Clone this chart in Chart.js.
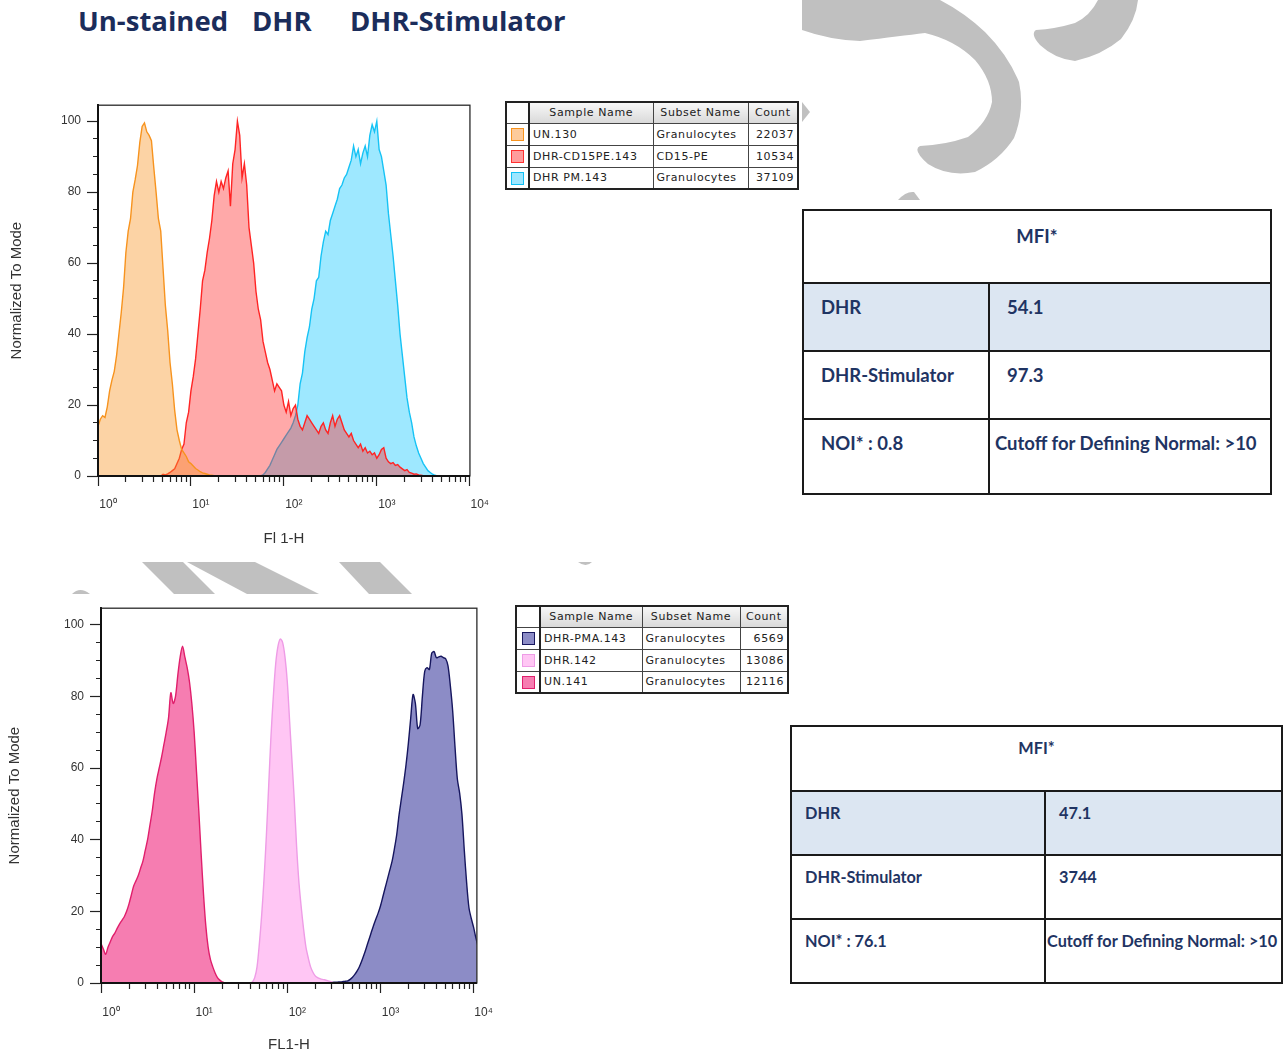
<!DOCTYPE html>
<html>
<head>
<meta charset="utf-8">
<script src="https://cdn.jsdelivr.net/npm/chart.js@4.4.1/dist/chart.umd.min.js"></script>
<style>
  html, body { margin: 0; padding: 0; background: #fff; }
  body { width: 1286px; height: 1054px; position: relative; overflow: hidden; }
  #watermark { position: absolute; left: 0; top: 0; z-index: 0; }
  .heading { position: absolute; top: 2px; font: 700 27.5px "Open Sans", sans-serif; color: #1b2d5b; z-index: 1; }
  .plot { position: absolute; z-index: 1; }
  table.leg { position: absolute; z-index: 1; border-collapse: collapse; table-layout: fixed;
    font: 11px "DejaVu Sans", sans-serif; letter-spacing: 0.6px; color: #222; border: 2px solid #222; }
  table.leg td, table.leg th { border: 1px solid #444; padding: 0 3px; white-space: nowrap; overflow: hidden;
    font-weight: normal; text-align: left; }
  table.leg th { background: linear-gradient(#f7f7f7, #d9d9d9); text-align: center; }
  table.leg td.num { text-align: right; }
  table.leg td.sw, table.leg th.sw { border-right: 2px solid #222; padding: 0; text-align: center; background: #fff; }
  .swatch { display: inline-block; width: 11px; height: 11px; border: 1px solid; vertical-align: middle; }
  table.mfi { position: absolute; z-index: 1; border-collapse: collapse; table-layout: fixed;
    font-family: Lato, sans-serif; font-weight: 700; color: #1f3463; }
  table.mfi td { border: 2px solid #1a1a1a; vertical-align: top; white-space: nowrap; }
  table.mfi tr.blue td { background: #dce6f2; }
</style>
</head>
<body>

<svg id="watermark" width="1286" height="1054" viewBox="0 0 1286 1054">
  <g fill="#c0c0c0">
    <path d="M802,0 L802,30 Q830,40 860,41 Q900,36 925,33 Q955,40 975,60 Q992,80 992,102 Q988,122 968,137 Q945,145 920,146 Q912,150 928,164 Q948,177 975,172 Q1000,160 1014,138 Q1025,110 1019,82 Q1008,55 985,32 Q965,13 940,0 Z"/>
    <path d="M1098,0 Q1090,16 1075,23 Q1055,29 1036,30 Q1030,34 1040,45 Q1055,59 1075,61 Q1102,55 1121,39 Q1136,20 1138,0 Z"/>
    <path d="M802,102 L810,112 L802,122 Z"/>
    <path d="M898,200 Q906,191 914,192 L920,200 Z"/>
    <path d="M142,562 L183,562 L215,594 L174,594 Z"/>
    <path d="M187,562 L255,562 L319,594 L247,594 Z"/>
    <path d="M339,562 L380,562 L412,594 L369,594 Z"/>
    <path d="M72,594 Q80,586 90,594 Z"/>
    <path d="M578,562 L592,562 Q586,568 578,562 Z"/>
  </g>
</svg>

<div class="heading" style="left:78px">Un-stained</div>
<div class="heading" style="left:252px">DHR</div>
<div class="heading" style="left:350px">DHR-Stimulator</div>

<div class="plot" style="left:0; top:92px; width:490px; height:460px;"><canvas id="histTop" width="490" height="460"></canvas></div>
<div class="plot" style="left:0; top:595px; width:495px; height:459px;"><canvas id="histBottom" width="495" height="459"></canvas></div>

<table class="leg" id="legendTop" style="left:505px; top:101px; width:292px;">
  <colgroup><col style="width:23px"><col style="width:124px"><col style="width:95px"><col style="width:50px"></colgroup>
</table>
<table class="leg" id="legendBottom" style="left:515px; top:605px; width:272px;">
  <colgroup><col style="width:24px"><col style="width:102px"><col style="width:98px"><col style="width:48px"></colgroup>
</table>

<table class="mfi" style="left:802px; top:209px; width:468px; font-size:18.5px;">
  <colgroup><col style="width:186px"><col style="width:282px"></colgroup>
  <tr style="height:73px"><td colspan="2" style="text-align:center; padding-top:14px">MFI*</td></tr>
  <tr class="blue" style="height:68px"><td style="padding:12px 0 0 17px">DHR</td><td style="padding:12px 0 0 17px">54.1</td></tr>
  <tr style="height:68px"><td style="padding:12px 0 0 17px">DHR-Stimulator</td><td style="padding:12px 0 0 17px">97.3</td></tr>
  <tr style="height:75px"><td style="padding:12px 0 0 17px">NOI* : 0.8</td><td style="padding:12px 0 0 5px">Cutoff for Defining Normal: &gt;10</td></tr>
</table>

<table class="mfi" style="left:790px; top:725px; width:491px; font-size:16.3px;">
  <colgroup><col style="width:254px"><col style="width:237px"></colgroup>
  <tr style="height:65px"><td colspan="2" style="text-align:center; padding-top:11px">MFI*</td></tr>
  <tr class="blue" style="height:64px"><td style="padding:11px 0 0 13px">DHR</td><td style="padding:11px 0 0 13px">47.1</td></tr>
  <tr style="height:64px"><td style="padding:11px 0 0 13px">DHR-Stimulator</td><td style="padding:11px 0 0 13px">3744</td></tr>
  <tr style="height:64px"><td style="padding:11px 0 0 13px">NOI* : 76.1</td><td style="padding:11px 0 0 1px">Cutoff for Defining Normal: &gt;10</td></tr>
</table>

<script>
// log10 of the FL1-H channel centres (0.025 decade bins)
const channelLog = [
  0, 0.025, 0.05, 0.075, 0.1, 0.125, 0.15, 0.175, 0.2, 0.225, 0.25, 0.275, 0.3, 0.325, 0.35, 0.375, 0.4, 0.425, 0.45, 0.475,
  0.5, 0.525, 0.55, 0.575, 0.6, 0.625, 0.65, 0.675, 0.7, 0.725, 0.75, 0.775, 0.8, 0.825, 0.85, 0.875, 0.9, 0.925, 0.95, 0.975,
  1, 1.025, 1.05, 1.075, 1.1, 1.125, 1.15, 1.175, 1.2, 1.225, 1.25, 1.275, 1.3, 1.325, 1.35, 1.375, 1.4, 1.425, 1.45, 1.475,
  1.5, 1.525, 1.55, 1.575, 1.6, 1.625, 1.65, 1.675, 1.7, 1.725, 1.75, 1.775, 1.8, 1.825, 1.85, 1.875, 1.9, 1.925, 1.95, 1.975,
  2, 2.025, 2.05, 2.075, 2.1, 2.125, 2.15, 2.175, 2.2, 2.225, 2.25, 2.275, 2.3, 2.325, 2.35, 2.375, 2.4, 2.425, 2.45, 2.475,
  2.5, 2.525, 2.55, 2.575, 2.6, 2.625, 2.65, 2.675, 2.7, 2.725, 2.75, 2.775, 2.8, 2.825, 2.85, 2.875, 2.9, 2.925, 2.95, 2.975,
  3, 3.025, 3.05, 3.075, 3.1, 3.125, 3.15, 3.175, 3.2, 3.225, 3.25, 3.275, 3.3, 3.325, 3.35, 3.375, 3.4, 3.425, 3.45, 3.475,
  3.5, 3.525, 3.55, 3.575, 3.6, 3.625, 3.65, 3.675, 3.7, 3.725, 3.75, 3.775, 3.8, 3.825, 3.85, 3.875, 3.9, 3.925, 3.95, 3.975,
  4, 4.025, 4.05
];

// top histogram, % of mode
const un130 = [
  14, 16, 17, 16.5, 19.5, 24, 27, 29.5, 34, 40, 46, 53, 63, 69, 72.5, 80, 83.5, 87.5, 94, 98.5,
  99.5, 97, 96, 94.5, 87, 80, 72.5, 69, 58.5, 48, 41, 32, 26, 18.5, 13, 10, 7.5, 6.5, 5.5, 4,
  3.5, 2.8, 2.1, 1.7, 1.2, 0.9, 0.7, 0.5, 0.3, 0.2, 0.1, 0
];
const dhrCd15 = [
  0, 0, 0, 0, 0, 0, 0, 0, 0, 0, 0, 0, 0, 0, 0, 0, 0, 0, 0, 0,
  0, 0, 0, 0, 0, 0, 0, 0, 0.5, 0.3, 0.6, 1, 1.5, 2, 3.5, 5, 7.5, 9, 15, 18,
  24, 28, 33, 40, 47, 55, 58, 63, 67, 72, 79, 83, 80, 83, 81, 84, 86, 76, 88, 92,
  100, 96, 84, 88, 82, 70, 65, 60, 52, 47, 44, 38, 35, 32, 30, 27, 24, 26, 25, 24,
  20, 18, 21, 17, 19, 20, 16, 14, 13, 15, 17, 16, 15, 14, 13, 12, 14, 15, 13, 12,
  15, 17, 14, 16, 17, 15, 13, 12, 11, 12, 10, 9, 8, 9, 7, 8, 6.5, 7, 6, 6.5,
  5, 6, 7.5, 8, 5, 4, 3.5, 3.8, 3, 3.2, 2.5, 2, 1.5, 1.8, 1, 0.8, 0.5, 0.6, 0.3, 0.2,
  0.1, 0
];
const dhrPm = [
  0, 0, 0, 0, 0, 0, 0, 0, 0, 0, 0, 0, 0, 0, 0, 0, 0, 0, 0, 0,
  0, 0, 0, 0, 0, 0, 0, 0, 0, 0, 0, 0, 0, 0, 0, 0, 0, 0, 0, 0,
  0, 0, 0, 0, 0, 0, 0, 0, 0, 0, 0, 0, 0, 0, 0, 0, 0, 0, 0, 0,
  0, 0, 0, 0, 0, 0, 0, 0, 0, 0, 0, 0.3, 1, 2, 3, 4.5, 6, 7.5, 8.5, 9.5,
  10.5, 11.5, 12.5, 13.5, 15, 17, 20, 26, 29, 35, 39, 42, 47, 50, 55, 56, 62, 66, 69, 68,
  72, 74, 76, 78, 81, 82, 84, 85, 87, 89, 93, 90, 92, 88, 91, 93, 90, 96, 99, 97,
  100, 92, 90, 86, 82, 74, 68, 62, 55, 48, 40, 34, 28, 22, 18, 15, 11, 8.5, 6.5, 5,
  3.5, 2.5, 1.5, 1, 0.5, 0.2, 0
];

// bottom histogram, % of mode
const un141 = [
  11, 9.5, 8, 10, 11.5, 13, 14, 15.3, 16.5, 17.5, 18.5, 20, 22, 24.5, 27, 28.5, 30, 32, 34, 37,
  40, 44, 48, 53, 57, 60, 63, 66.5, 70, 74, 81, 78, 80, 86, 91, 94, 91, 88, 84, 78,
  70, 59, 48, 36, 25, 16, 10, 6.5, 4.5, 2.8, 1.5, 0.8, 0.3, 0.1, 0
];
const dhr142 = [
  0, 0, 0, 0, 0, 0, 0, 0, 0, 0, 0, 0, 0, 0, 0, 0, 0, 0, 0, 0,
  0, 0, 0, 0, 0, 0, 0, 0, 0, 0, 0, 0, 0, 0, 0, 0, 0, 0, 0, 0,
  0, 0, 0, 0, 0, 0, 0, 0, 0, 0, 0, 0, 0, 0, 0, 0, 0, 0, 0, 0,
  0, 0, 0, 0, 0, 0.3, 1.5, 4.5, 11, 19, 29, 41, 55, 69, 80, 89, 94, 96, 95, 91,
  84, 73, 62, 51, 38, 28, 21, 15, 10, 7, 4.5, 3, 2, 1.5, 1.2, 1, 0.9, 0.7, 0.5, 0.3,
  0
];
const dhrPma143 = [
  0, 0, 0, 0, 0, 0, 0, 0, 0, 0, 0, 0, 0, 0, 0, 0, 0, 0, 0, 0,
  0, 0, 0, 0, 0, 0, 0, 0, 0, 0, 0, 0, 0, 0, 0, 0, 0, 0, 0, 0,
  0, 0, 0, 0, 0, 0, 0, 0, 0, 0, 0, 0, 0, 0, 0, 0, 0, 0, 0, 0,
  0, 0, 0, 0, 0, 0, 0, 0, 0, 0, 0, 0, 0, 0, 0, 0, 0, 0, 0, 0,
  0, 0, 0, 0, 0, 0, 0, 0, 0, 0, 0, 0, 0, 0, 0, 0, 0, 0, 0, 0.1,
  0.2, 0.2, 0.3, 0.3, 0.4, 0.5, 0.6, 1, 1.6, 2.4, 3.4, 4.6, 6.2, 8, 10, 12, 14, 16, 17.8, 19.5,
  21.5, 24, 26.5, 29, 31.5, 34, 37.5, 41.5, 47, 51.5, 56, 61, 67, 74, 80.5, 78, 71, 72, 80, 87,
  88, 87.5, 92, 92.5, 90.8, 91, 91.2, 90.8, 90.5, 88.5, 83, 76, 66, 57, 53, 47, 37, 28, 21, 18,
  15.5, 12.5, 10
];

// axis ticks
const decadeValues = [1, 10, 100, 1000, 10000];
const decadeLabels = ['10⁰', '10¹', '10²', '10³', '10⁴'];
const minorSteps = [2, 3, 4, 5, 6, 7, 8, 9];

// legend tables
const topSamples = ['UN.130', 'DHR-CD15PE.143', 'DHR PM.143'];
const topSubsets = ['Granulocytes', 'CD15-PE', 'Granulocytes'];
const topCounts = ['22037', '10534', '37109'];
const bottomSamples = ['DHR-PMA.143', 'DHR.142', 'UN.141'];
const bottomSubsets = ['Granulocytes', 'Granulocytes', 'Granulocytes'];
const bottomCounts = ['6569', '13086', '12116'];

const topColors = [
  { line: '#f7931e', fill: 'rgba(248,150,40,0.42)' },
  { line: '#ff2424', fill: 'rgba(255,40,40,0.40)' },
  { line: '#16c3f5', fill: 'rgba(0,195,255,0.38)' }
];
const bottomColors = [
  { line: '#16165e', fill: '#8c8cc6' },
  { line: '#ee9ce6', fill: '#ffc6f4' },
  { line: '#e01f6c', fill: '#f67db1' }
];

function fillLegend(id, samples, subsets, counts, colors, rowH) {
  const table = document.getElementById(id);
  let html = '<tr style="height:' + (rowH - 1) + 'px"><th class="sw"></th><th>Sample Name</th><th>Subset Name</th><th>Count</th></tr>';
  samples.forEach((name, i) => {
    html += '<tr style="height:' + rowH + 'px"><td class="sw"><span class="swatch" style="background:' +
      colors[i].fill + ';border-color:' + colors[i].line + '"></span></td><td>' + name + '</td><td>' +
      subsets[i] + '</td><td class="num">' + counts[i] + '</td></tr>';
  });
  table.insertAdjacentHTML('beforeend', html);
}
fillLegend('legendTop', topSamples, topSubsets, topCounts,
  [{ line: '#f7931e', fill: '#fdcb9b' }, { line: '#ff3030', fill: '#ff9c9c' }, { line: '#10c0f5', fill: '#9de6ff' }], 22);
fillLegend('legendBottom', bottomSamples, bottomSubsets, bottomCounts, bottomColors, 22);

function toPoints(values) {
  return values.map((v, i) => ({ x: Math.pow(10, channelLog[i]), y: v }));
}

const plotFrame = {
  id: 'plotFrame',
  afterDatasetsDraw(chart) {
    const { ctx, chartArea: a } = chart;
    ctx.save();
    ctx.strokeStyle = '#2a2a2a';
    ctx.lineWidth = 1.3;
    ctx.strokeRect(a.left, a.top, a.right - a.left, a.bottom - a.top);
    ctx.lineWidth = 2;
    ctx.strokeStyle = '#111';
    ctx.beginPath();
    ctx.moveTo(a.left, a.top);
    ctx.lineTo(a.left, a.bottom);
    ctx.lineTo(a.right, a.bottom);
    ctx.stroke();
    ctx.restore();
  }
};

function histogram(id, cfg) {
  const tickFont = { family: 'Liberation Sans, Arial, sans-serif', size: cfg.tickSize };
  return new Chart(document.getElementById(id), {
    type: 'line',
    data: {
      datasets: cfg.series.map(s => ({
        data: toPoints(s.values),
        borderColor: s.line,
        backgroundColor: s.fill,
        fill: 'origin',
        borderWidth: 1.4,
        pointRadius: 0,
        tension: cfg.tension,
        order: s.order
      }))
    },
    options: {
      responsive: false,
      animation: false,
      events: [],
      layout: { padding: { top: cfg.padTop, right: cfg.padRight, left: 0, bottom: 0 } },
      plugins: { legend: { display: false }, tooltip: { enabled: false } },
      scales: {
        x: {
          type: 'logarithmic',
          min: 1,
          max: cfg.xMax,
          afterBuildTicks(scale) {
            const ticks = [];
            decadeValues.forEach(d => {
              ticks.push({ value: d });
              if (d < 10000) minorSteps.forEach(m => ticks.push({ value: d * m }));
            });
            scale.ticks = ticks.filter(t => t.value <= cfg.xMax);
          },
          afterFit(scale) { scale.height = cfg.xHeight; },
          grid: {
            drawOnChartArea: false,
            tickLength: 10,
            tickColor: '#222',
            tickWidth: 1.2,
            tickBorderDash: c => (c.tick && decadeValues.includes(c.tick.value)) ? [] : [5, 100]
          },
          border: { color: '#111', width: 2 },
          ticks: {
            autoSkip: false,
            maxRotation: 0,
            labelOffset: 10,
            padding: cfg.xTickPad,
            color: '#333',
            font: tickFont,
            callback: v => {
              const k = decadeValues.indexOf(v);
              return k >= 0 ? decadeLabels[k] : '';
            }
          },
          title: {
            display: true,
            text: cfg.xTitle,
            color: '#333',
            font: { family: 'Liberation Sans, Arial, sans-serif', size: cfg.titleSize },
            padding: { top: 0, bottom: cfg.xTitlePad }
          }
        },
        y: {
          min: 0,
          max: cfg.yMax,
          afterFit(scale) { scale.width = cfg.yWidth; },
          grid: {
            drawOnChartArea: false,
            tickLength: 11,
            tickColor: '#222',
            tickWidth: 1.2,
            tickBorderDash: c => (c.tick && c.tick.value % 20 === 0) ? [] : [0, 6, 5, 100]
          },
          border: { color: '#111', width: 2 },
          ticks: {
            stepSize: 5,
            includeBounds: false,
            padding: 6,
            color: '#333',
            font: tickFont,
            callback: v => (v % 20 === 0 ? String(v) : '')
          },
          title: {
            display: true,
            text: 'Normalized To Mode',
            color: '#333',
            font: { family: 'Liberation Sans, Arial, sans-serif', size: cfg.titleSize },
            padding: { top: cfg.yTitlePad, bottom: 0 }
          }
        }
      }
    },
    plugins: [plotFrame]
  });
}

histogram('histTop', {
  series: [
    { values: dhrPm, line: topColors[2].line, fill: topColors[2].fill, order: 3 },
    { values: dhrCd15, line: topColors[1].line, fill: topColors[1].fill, order: 2 },
    { values: un130, line: topColors[0].line, fill: topColors[0].fill, order: 1 }
  ],
  tension: 0,
  xMax: 10050,
  yMax: 104.5,
  padTop: 10,
  padRight: 19,
  yWidth: 98,
  xHeight: 76,
  xTickPad: 11,
  xTitlePad: 4,
  yTitlePad: 8,
  tickSize: 12,
  titleSize: 15,
  xTitle: 'Fl 1-H'
});

histogram('histBottom', {
  series: [
    { values: dhrPma143, line: bottomColors[0].line, fill: bottomColors[0].fill, order: 3 },
    { values: dhr142, line: bottomColors[1].line, fill: bottomColors[1].fill, order: 2 },
    { values: un141, line: bottomColors[2].line, fill: bottomColors[2].fill, order: 1 }
  ],
  tension: 0.3,
  xMax: 10840,
  yMax: 104.6,
  padTop: 10,
  padRight: 15,
  yWidth: 101,
  xHeight: 71,
  xTickPad: 12,
  xTitlePad: 0,
  yTitlePad: 6,
  tickSize: 12,
  titleSize: 15,
  xTitle: 'FL1-H'
});
</script>
</body>
</html>
